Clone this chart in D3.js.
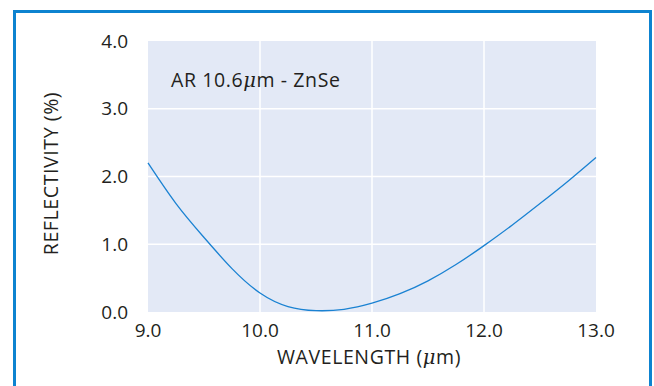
<!DOCTYPE html>
<html><head><meta charset="utf-8">
<script src="https://cdn.jsdelivr.net/npm/d3@7"></script>
<style>
html,body{margin:0;padding:0;background:#fff;}
svg{display:block;font-family:"Open Sans","Noto Sans",sans-serif;}
</style></head>
<body>
<script>
const wavelength = [9.0, 9.25, 9.5, 9.75, 10.0, 10.25, 10.5, 10.75, 11.0, 11.25, 11.5, 11.75, 12.0, 12.25, 12.5, 12.75, 13.0];
const reflectivity = [2.20, 1.60, 1.10, 0.64, 0.28, 0.08, 0.02, 0.04, 0.13, 0.27, 0.46, 0.70, 0.98, 1.28, 1.60, 1.93, 2.28];
const xTicks = [9.0, 10.0, 11.0, 12.0, 13.0];
const yTicks = [0.0, 1.0, 2.0, 3.0, 4.0];
const xTitle = "WAVELENGTH (";
const yTitle = "REFLECTIVITY (%)";
const noteText = ["AR 10.6", "m - ZnSe"];

const W = 654, H = 386;
const m = {left:148, right:596, top:41, bottom:312};
const svg = d3.select("body").append("svg").attr("width", W).attr("height", H);

svg.append("rect").attr("x",14.5).attr("y",11.5).attr("width",636).attr("height",420)
  .attr("fill","none").attr("stroke","#0d83d0").attr("stroke-width",3);

const x = d3.scaleLinear().domain([9,13]).range([m.left,m.right]);
const y = d3.scaleLinear().domain([0,4]).range([m.bottom,m.top]);

svg.append("rect").attr("x",m.left).attr("y",m.top).attr("width",m.right-m.left).attr("height",m.bottom-m.top).attr("fill","#e3e9f6");

svg.append("g").selectAll("line").data(xTicks.slice(1,-1)).join("line")
  .attr("x1",d=>x(d)).attr("x2",d=>x(d)).attr("y1",m.top).attr("y2",m.bottom)
  .attr("stroke","#fff").attr("stroke-width",1.5);
svg.append("g").selectAll("line").data(yTicks.slice(1,-1)).join("line")
  .attr("y1",d=>y(d)).attr("y2",d=>y(d)).attr("x1",m.left).attr("x2",m.right)
  .attr("stroke","#fff").attr("stroke-width",1.5);

const pts = wavelength.map((w,i)=>[w, reflectivity[i]]);
svg.append("path").datum(pts)
  .attr("d", d3.line().x(d=>x(d[0])).y(d=>y(d[1])).curve(d3.curveNatural))
  .attr("fill","none").attr("stroke","#1a82d2").attr("stroke-width",1.3);

const tc = "#231f20", fs = 19, fst = 19.5, ls = 0.6;
svg.append("g").selectAll("text").data(yTicks).join("text")
  .attr("x",128).attr("y",d=>y(d)).attr("dy","0.35em").attr("text-anchor","end")
  .attr("font-size",fs).attr("fill",tc).text(d=>d.toFixed(1));
svg.append("g").selectAll("text").data(xTicks).join("text")
  .attr("x",d=>x(d)).attr("y",337).attr("text-anchor","middle")
  .attr("font-size",fs).attr("fill",tc).text(d=>d.toFixed(1));

const xt = svg.append("text").attr("x",(m.left+m.right)/2-3).attr("y",364).attr("text-anchor","middle")
  .attr("font-size",fst).attr("letter-spacing",ls).attr("fill",tc);
xt.append("tspan").text(xTitle);
xt.append("tspan").attr("font-style","italic").attr("font-family","DejaVu Serif, serif").text("\u03BC");
xt.append("tspan").text("m)");

svg.append("text").attr("transform",`translate(58,${(m.top+m.bottom)/2-3}) rotate(-90)`)
  .attr("text-anchor","middle").attr("font-size",fst).attr("letter-spacing",ls).attr("fill",tc).text(yTitle);

const nt = svg.append("text").attr("x",171).attr("y",87).attr("font-size",fst).attr("letter-spacing",ls).attr("fill",tc);
nt.append("tspan").text(noteText[0]);
nt.append("tspan").attr("font-style","italic").attr("font-family","DejaVu Serif, serif").text("\u03BC");
nt.append("tspan").text(noteText[1]);
</script>
</body></html>
